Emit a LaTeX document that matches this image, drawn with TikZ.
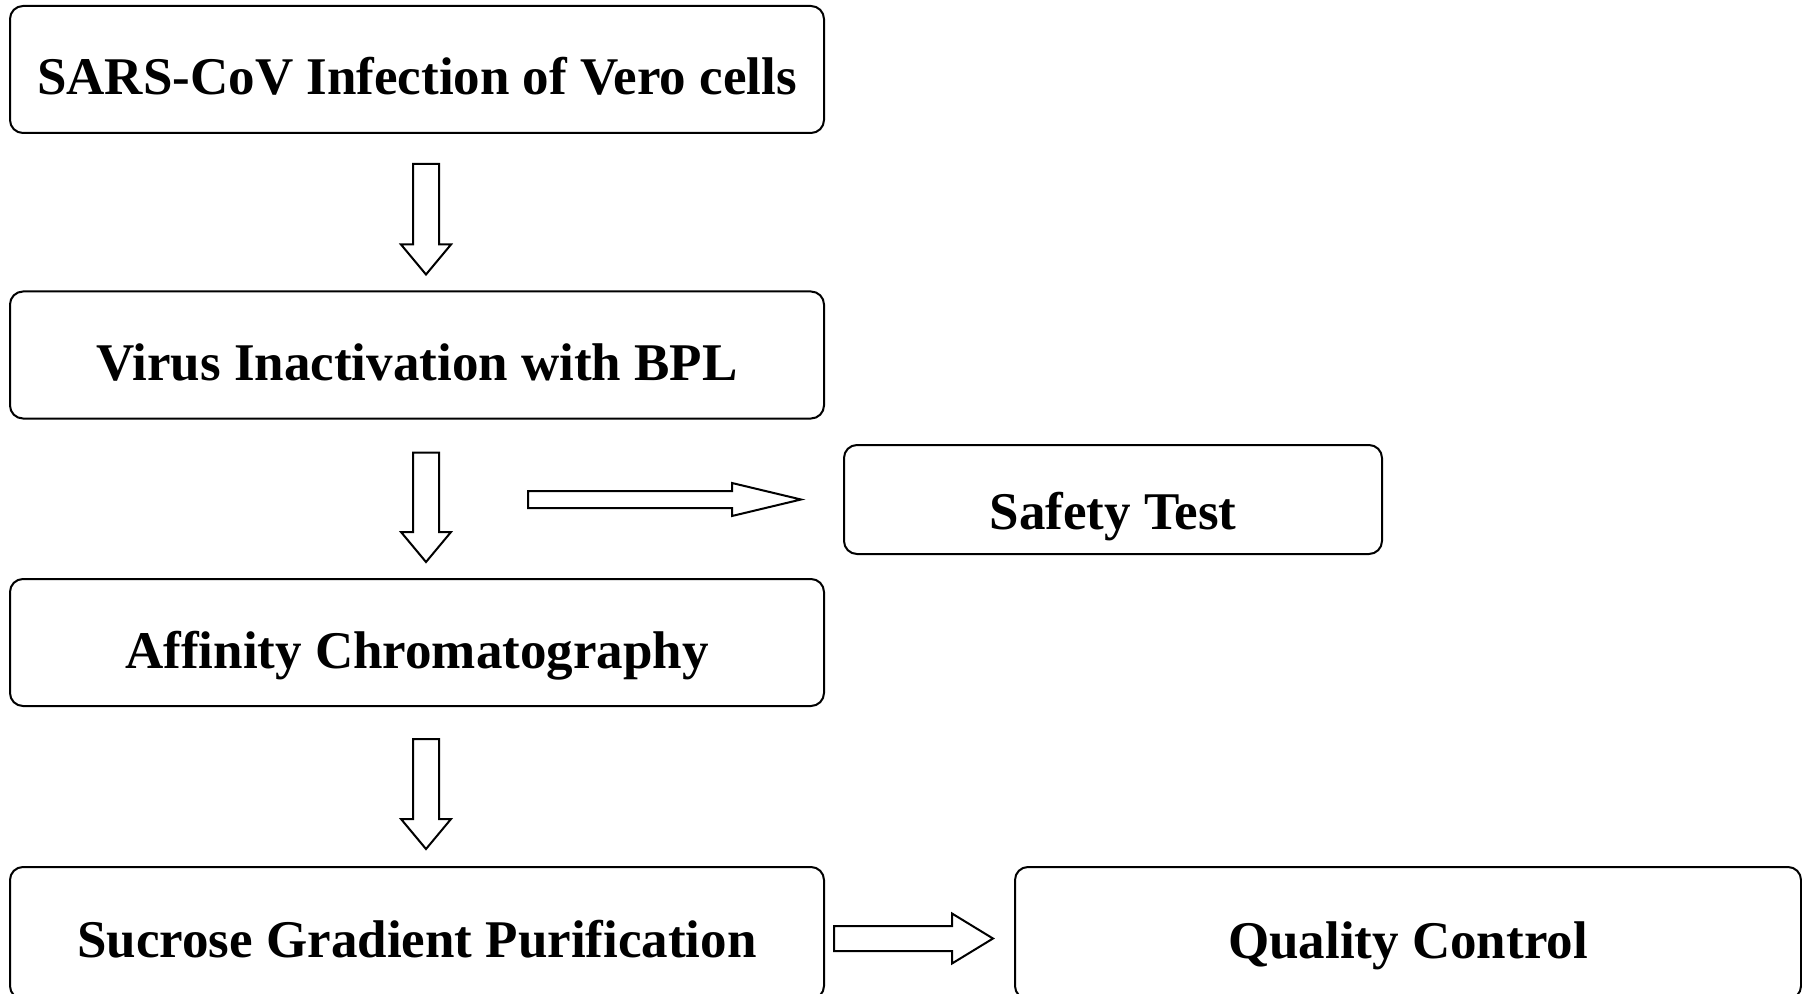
\documentclass[tikz,border=0pt]{standalone}
\usepackage{fontspec}
\setmainfont{Liberation Serif}
\usetikzlibrary{calc}
\newcommand{\droppedtext}[2]{\raisebox{-#1}[0pt][0pt]{#2}}
\begin{document}
\begin{tikzpicture}[x=0.5pt,y=-0.5pt,
  box/.style={draw, line width=1pt, rounded corners=6.5pt, inner sep=0pt,
    font=\bfseries\fontsize{26.5}{32}\selectfont},
  bigbox/.style={box, minimum width=407pt, minimum height=63.5pt},
  blk/.style={draw, line width=1pt, fill=white, line join=miter}]
\useasboundingbox (0,0) rectangle (1802,994);

\node[bigbox] (b1) at (417,69.5) {\droppedtext{12.75pt}{SARS-CoV Infection of Vero cells}};
\node[bigbox] (b2) at (417,355) {\droppedtext{13pt}{Virus Inactivation with BPL}};
\node[bigbox] (b3) at (417,642.5) {\droppedtext{13pt}{Affinity Chromatography}};
\node[bigbox, minimum height=66pt] (b4) at (417,933) {\droppedtext{12pt}{Sucrose Gradient Purification}};
\node[box, minimum width=269pt, minimum height=54.5pt] (st) at (1113,499.5) {\droppedtext{14.75pt}{Safety Test}};
\node[box, minimum width=393pt, minimum height=66pt] (qc) at (1408,933) {\droppedtext{12.5pt}{Quality Control}};

% down arrows
\coordinate (d1s) at ($(b1.south)+(9,30)$);
\coordinate (d1e) at ($(b2.north)+(9,-16)$);
\coordinate (d2s) at ($(b2.south)+(9,33)$);
\coordinate (d2e) at ($(b3.north)+(9,-16)$);
\coordinate (d3s) at ($(b3.south)+(9,32)$);
\coordinate (d3e) at ($(b4.north)+(9,-17)$);
\foreach \s/\e in {d1s/d1e, d2s/d2e, d3s/d3e}{
  \draw[blk] let \p1=(\s), \p2=(\e) in
    (\x1-6.5pt,\y1) -- (\x1+6.5pt,\y1) -- (\x1+6.5pt,\y2+15pt) -- (\x1+12.5pt,\y2+15pt)
    -- (\x1,\y2) -- (\x1-12.5pt,\y2+15pt) -- (\x1-6.5pt,\y2+15pt) -- cycle;
}

% thin right arrow to Safety Test
\coordinate (r1s) at ($(st.west)+(-315,0)$);
\coordinate (r1e) at ($(st.west)+(-42,0)$);
\draw[blk] let \p1=(r1s), \p2=(r1e) in
  (\x1,\y1+4.25pt) -- (\x2-34.5pt,\y1+4.25pt) -- (\x2-34.5pt,\y1+8.25pt) -- (\x2,\y1)
  -- (\x2-34.5pt,\y1-8.25pt) -- (\x2-34.5pt,\y1-4.25pt) -- (\x1,\y1-4.25pt) -- cycle;

% right arrow to Quality Control
\coordinate (r2s) at ($(b4.east)+(9,5.5)$);
\coordinate (r2e) at ($(qc.west)+(-21,5.5)$);
\draw[blk] let \p1=(r2s), \p2=(r2e) in
  (\x1,\y1+6.25pt) -- (\x2-20.5pt,\y1+6.25pt) -- (\x2-20.5pt,\y1+12.5pt) -- (\x2,\y1)
  -- (\x2-20.5pt,\y1-12.5pt) -- (\x2-20.5pt,\y1-6.25pt) -- (\x1,\y1-6.25pt) -- cycle;
\end{tikzpicture}
\end{document}
